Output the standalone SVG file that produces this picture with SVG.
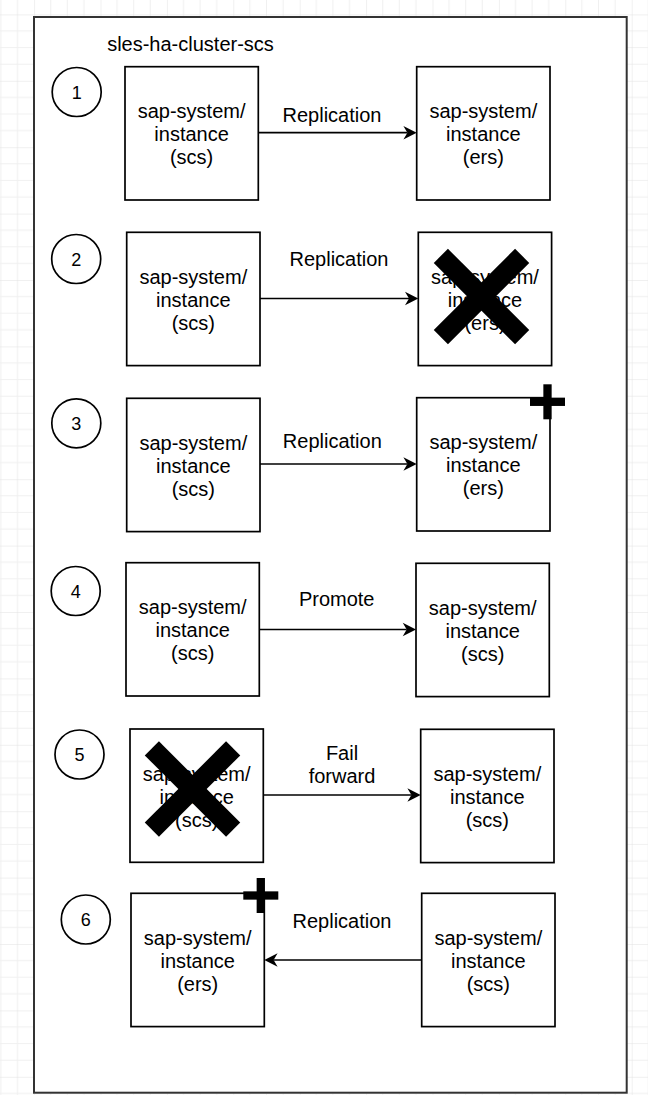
<svg xmlns="http://www.w3.org/2000/svg" width="648" height="1095" viewBox="0 0 648 1095">
<style>
  .box { fill: #ffffff; stroke: #000000; stroke-width: 1.7; }
  .circ { fill: #ffffff; stroke: #000000; stroke-width: 1.7; }
  .frame { fill: #ffffff; stroke: #333333; stroke-width: 2; }
  .t { font-family: "Liberation Sans", Arial, Helvetica, sans-serif; font-size: 20px; fill: #000000; text-anchor: middle; }
  .num { font-family: "Liberation Sans", Arial, Helvetica, sans-serif; font-size: 18px; fill: #000000; text-anchor: middle; }
  .edge { fill: none; stroke: #000000; stroke-width: 1.7; marker-end: url(#arrow); }
  .mark { fill: #000000; }
</style>
<defs>
  <pattern id="grid" x="34.1" y="14.4" width="66.4" height="66.4" patternUnits="userSpaceOnUse">
    <path d="M16.6 0V66.4M33.2 0V66.4M49.8 0V66.4M0 16.6H66.4M0 33.2H66.4M0 49.8H66.4" fill="none" stroke="#f0f0f0" stroke-width="1"/>
    <path d="M0 0V66.4M0 0H66.4" fill="none" stroke="#e2e2e2" stroke-width="1"/>
  </pattern>
  <marker id="arrow" viewBox="-5 -8 16 16" markerWidth="16" markerHeight="16" refX="0" refY="0" markerUnits="userSpaceOnUse" orient="auto" overflow="visible">
    <path d="M-4 -6.7L9.3 0L-4 6.7L0 0Z" fill="#000000"/>
  </marker>
</defs>
<rect x="0" y="0" width="648" height="1095" fill="#ffffff"/>
<rect x="0" y="0" width="648" height="1095" fill="url(#grid)"/>

<g id="cluster">
  <rect class="frame" x="34" y="17" width="592.7" height="1075.7"/>
  <text class="t" x="190.5" y="51">sles-ha-cluster-scs</text>
</g>

<g id="step1">
  <circle class="circ" cx="76.7" cy="92" r="24.5"/>
  <text class="num" x="76.7" y="98.5">1</text>
</g>
<g id="step2">
  <circle class="circ" cx="76.2" cy="259" r="24.5"/>
  <text class="num" x="76.2" y="265.5">2</text>
</g>
<g id="step3">
  <circle class="circ" cx="76.3" cy="423.3" r="24.5"/>
  <text class="num" x="76.3" y="429.8">3</text>
</g>
<g id="step4">
  <circle class="circ" cx="75.7" cy="591" r="24.5"/>
  <text class="num" x="75.7" y="597.5">4</text>
</g>
<g id="step5">
  <circle class="circ" cx="79.5" cy="754.5" r="24.5"/>
  <text class="num" x="79.5" y="761">5</text>
</g>
<g id="step6">
  <circle class="circ" cx="85.8" cy="919.5" r="24.5"/>
  <text class="num" x="85.8" y="926">6</text>
</g>

<g id="r1-left">
  <rect class="box" x="125" y="66.7" width="133.3" height="133.3"/>
  <text class="t" x="191.6" y="118.3">sap-system/</text>
  <text class="t" x="191.6" y="141.3">instance</text>
  <text class="t" x="191.6" y="164.3">(scs)</text>
</g>
<g id="r1-right">
  <rect class="box" x="416.7" y="66.7" width="133.3" height="133.3"/>
  <text class="t" x="483.3" y="118.3">sap-system/</text>
  <text class="t" x="483.3" y="141.3">instance</text>
  <text class="t" x="483.3" y="164.3">(ers)</text>
</g>

<g id="r2-left">
  <rect class="box" x="126.7" y="232.3" width="133.3" height="133.3"/>
  <text class="t" x="193.3" y="284">sap-system/</text>
  <text class="t" x="193.3" y="307">instance</text>
  <text class="t" x="193.3" y="330">(scs)</text>
</g>
<g id="r2-right">
  <rect class="box" x="418.3" y="232.3" width="133.3" height="133.3"/>
  <text class="t" x="485" y="284">sap-system/</text>
  <text class="t" x="485" y="307">instance</text>
  <text class="t" x="485" y="330">(ers)</text>
</g>
<g id="r2-fail">
  <rect class="mark" x="424" y="286.5" width="115" height="20" transform="rotate(45 481.5 296.5)"/>
  <rect class="mark" x="424" y="286.5" width="115" height="20" transform="rotate(-45 481.5 296.5)"/>
</g>

<g id="r3-left">
  <rect class="box" x="126.7" y="398.3" width="133.3" height="133.3"/>
  <text class="t" x="193.3" y="450">sap-system/</text>
  <text class="t" x="193.3" y="473">instance</text>
  <text class="t" x="193.3" y="496">(scs)</text>
</g>
<g id="r3-right">
  <rect class="box" x="416.7" y="397.7" width="133.3" height="133.3"/>
  <text class="t" x="483.3" y="449.3">sap-system/</text>
  <text class="t" x="483.3" y="472.3">instance</text>
  <text class="t" x="483.3" y="495.3">(ers)</text>
</g>
<g id="r3-add">
  <rect class="mark" x="530" y="397.65" width="35" height="8.3"/>
  <rect class="mark" x="543.35" y="384.3" width="8.3" height="35"/>
</g>

<g id="r4-left">
  <rect class="box" x="126" y="562.7" width="133.3" height="133.3"/>
  <text class="t" x="192.7" y="614.3">sap-system/</text>
  <text class="t" x="192.7" y="637.3">instance</text>
  <text class="t" x="192.7" y="660.3">(scs)</text>
</g>
<g id="r4-right">
  <rect class="box" x="416" y="563.3" width="133.3" height="133.3"/>
  <text class="t" x="482.7" y="615">sap-system/</text>
  <text class="t" x="482.7" y="638">instance</text>
  <text class="t" x="482.7" y="661">(scs)</text>
</g>

<g id="r5-left">
  <rect class="box" x="130" y="729" width="133.3" height="133.3"/>
  <text class="t" x="196.7" y="780.7">sap-system/</text>
  <text class="t" x="196.7" y="803.7">instance</text>
  <text class="t" x="196.7" y="826.7">(scs)</text>
</g>
<g id="r5-fail">
  <rect class="mark" x="135" y="779" width="115" height="20" transform="rotate(45 192.5 789)"/>
  <rect class="mark" x="135" y="779" width="115" height="20" transform="rotate(-45 192.5 789)"/>
</g>
<g id="r5-right">
  <rect class="box" x="420.7" y="729.3" width="133.3" height="133.3"/>
  <text class="t" x="487.3" y="781">sap-system/</text>
  <text class="t" x="487.3" y="804">instance</text>
  <text class="t" x="487.3" y="827">(scs)</text>
</g>

<g id="r6-left">
  <rect class="box" x="131" y="893.3" width="133.3" height="133.3"/>
  <text class="t" x="197.7" y="945">sap-system/</text>
  <text class="t" x="197.7" y="968">instance</text>
  <text class="t" x="197.7" y="991">(ers)</text>
</g>
<g id="r6-add">
  <rect class="mark" x="243.3" y="891.35" width="35" height="8.3"/>
  <rect class="mark" x="256.65" y="878" width="8.3" height="35"/>
</g>
<g id="r6-right">
  <rect class="box" x="421.7" y="893.3" width="133.3" height="133.3"/>
  <text class="t" x="488.3" y="945">sap-system/</text>
  <text class="t" x="488.3" y="968">instance</text>
  <text class="t" x="488.3" y="991">(scs)</text>
</g>

<g id="connectors">
  <line class="edge" x1="258.3" y1="132.7" x2="407.4" y2="132.7"/>
  <line class="edge" x1="260" y1="298.5" x2="409" y2="298.5"/>
  <line class="edge" x1="260" y1="464" x2="407.4" y2="464"/>
  <line class="edge" x1="259.3" y1="629.5" x2="406.7" y2="629.5"/>
  <line class="edge" x1="263.3" y1="795" x2="411.4" y2="795"/>
  <line class="edge" x1="421.7" y1="960" x2="273.6" y2="960"/>
  <text class="t" x="332" y="121.7">Replication</text>
  <text class="t" x="339" y="266">Replication</text>
  <text class="t" x="332.3" y="448.3">Replication</text>
  <text class="t" x="336.7" y="605.7">Promote</text>
  <text class="t" x="342" y="759.5">Fail</text>
  <text class="t" x="342" y="782.7">forward</text>
  <text class="t" x="342" y="928.3">Replication</text>
</g>
</svg>
